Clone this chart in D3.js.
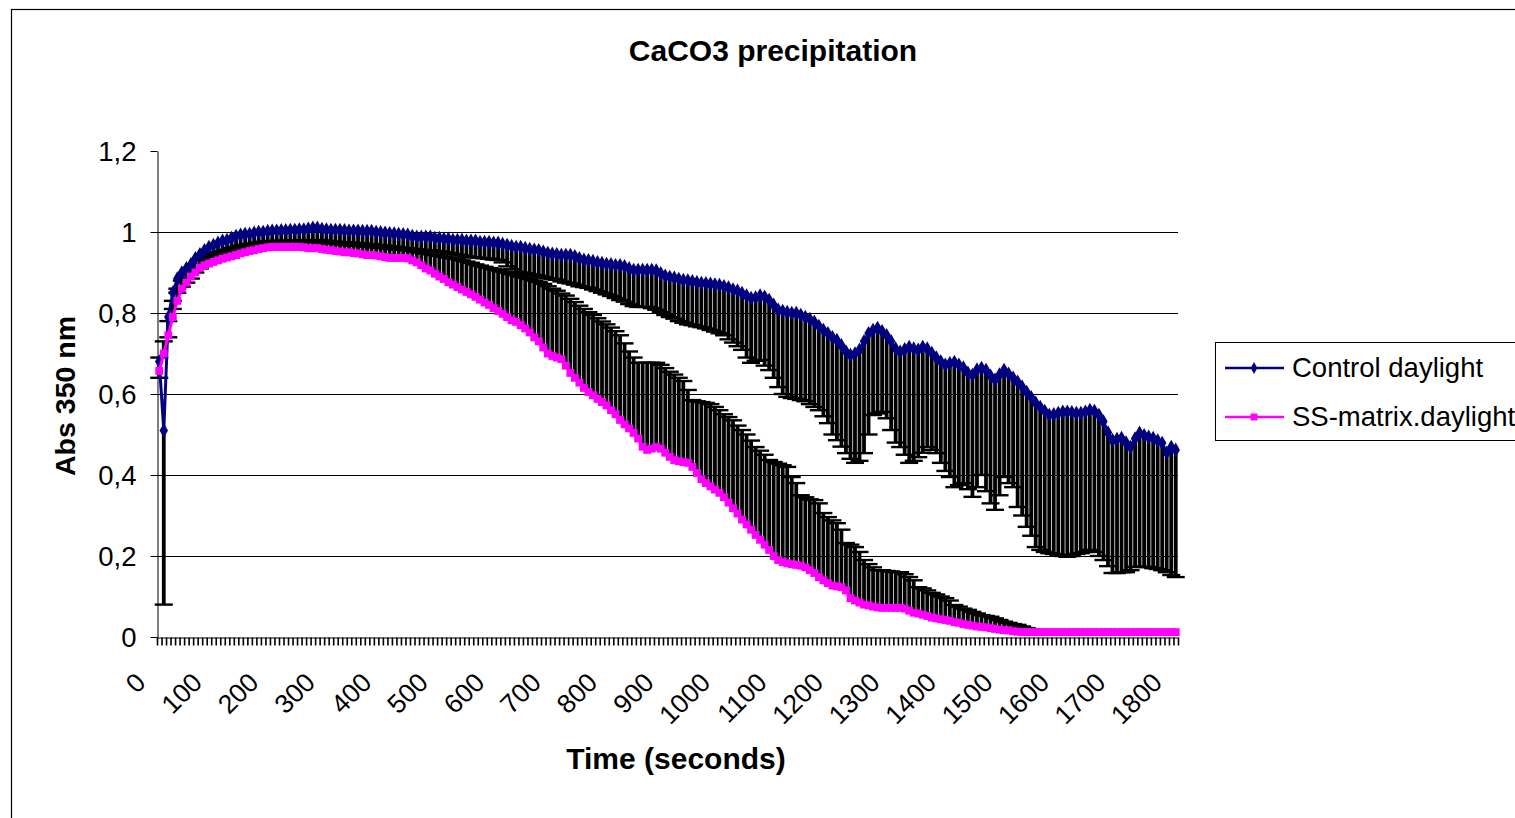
<!DOCTYPE html>
<html><head><meta charset="utf-8">
<script src="https://cdn.jsdelivr.net/npm/d3@7"></script>
<style>body{margin:0;background:#fff}svg text{font-family:"Liberation Sans",Arial,sans-serif;fill:#000}</style>
</head><body><svg id="c" width="1515" height="818"></svg>
<script>
// time step of the measurements (seconds)
const timeStep = 8;
const control = [0.68,0.51,0.79,0.85,0.885,0.90,0.91,0.92,0.935,0.945,
0.955,0.963,0.968,0.973,0.978,0.98,0.985,0.99,0.993,0.995,
0.995,0.998,1.0,1.0,1.002,1.003,1.003,1.004,1.004,1.005,
1.005,1.006,1.006,1.008,1.01,1.01,1.007,1.006,1.005,1.005,
1.005,1.004,1.003,1.003,1.003,1.002,1.002,1.002,1.0,0.999,
0.998,0.997,0.996,0.995,0.994,0.993,0.99,0.988,0.988,0.988,
0.988,0.985,0.985,0.983,0.983,0.98,0.98,0.98,0.978,0.978,
0.978,0.975,0.975,0.975,0.973,0.973,0.97,0.968,0.965,0.963,
0.963,0.96,0.958,0.956,0.955,0.951,0.948,0.946,0.945,0.943,
0.943,0.943,0.94,0.935,0.931,0.93,0.928,0.925,0.923,0.921,
0.92,0.918,0.918,0.915,0.91,0.906,0.906,0.906,0.906,0.906,
0.905,0.898,0.892,0.889,0.887,0.884,0.881,0.88,0.878,0.876,
0.874,0.873,0.872,0.87,0.869,0.866,0.863,0.858,0.855,0.849,
0.843,0.837,0.838,0.843,0.84,0.832,0.82,0.808,0.805,0.802,
0.8,0.8,0.795,0.79,0.785,0.778,0.768,0.758,0.75,0.74,
0.733,0.72,0.705,0.696,0.7,0.709,0.73,0.75,0.758,0.763,
0.755,0.745,0.73,0.712,0.704,0.71,0.716,0.712,0.709,0.716,
0.712,0.701,0.69,0.68,0.672,0.676,0.679,0.672,0.665,0.652,
0.647,0.66,0.664,0.659,0.645,0.635,0.648,0.659,0.65,0.64,
0.63,0.618,0.605,0.592,0.578,0.568,0.558,0.548,0.55,0.553,
0.556,0.556,0.555,0.553,0.553,0.556,0.56,0.558,0.548,0.532,
0.505,0.486,0.489,0.491,0.48,0.469,0.49,0.504,0.498,0.494,
0.491,0.485,0.479,0.455,0.469,0.462];
const controlLow = [0.64,0.08,0.74,0.81,0.85,0.865,0.875,0.885,0.9,0.91,
0.92,0.93,0.935,0.94,0.945,0.95,0.955,0.96,0.962,0.965,
0.967,0.97,0.972,0.973,0.975,0.976,0.977,0.977,0.978,0.978,
0.978,0.978,0.979,0.98,0.98,0.98,0.979,0.978,0.977,0.976,
0.975,0.975,0.974,0.973,0.972,0.972,0.97,0.97,0.968,0.967,
0.966,0.965,0.964,0.962,0.961,0.96,0.958,0.957,0.956,0.955,
0.955,0.953,0.952,0.95,0.948,0.946,0.944,0.942,0.94,0.938,
0.937,0.936,0.935,0.934,0.932,0.931,0.925,0.915,0.908,0.902,
0.9,0.898,0.896,0.894,0.892,0.889,0.886,0.884,0.882,0.878,
0.875,0.873,0.87,0.866,0.864,0.862,0.858,0.854,0.85,0.846,
0.842,0.837,0.832,0.828,0.822,0.817,0.815,0.815,0.815,0.812,
0.808,0.802,0.795,0.79,0.786,0.78,0.776,0.772,0.77,0.767,
0.765,0.762,0.758,0.754,0.75,0.745,0.735,0.727,0.718,0.709,
0.69,0.677,0.682,0.684,0.67,0.659,0.64,0.617,0.6,0.593,
0.59,0.588,0.585,0.582,0.575,0.568,0.56,0.545,0.528,0.5,
0.486,0.47,0.454,0.44,0.43,0.435,0.454,0.5,0.548,0.552,
0.556,0.54,0.511,0.48,0.469,0.45,0.43,0.435,0.444,0.455,
0.469,0.462,0.454,0.43,0.41,0.395,0.37,0.375,0.38,0.365,
0.346,0.37,0.4,0.36,0.33,0.314,0.35,0.395,0.38,0.37,
0.321,0.3,0.272,0.25,0.222,0.215,0.21,0.207,0.205,0.203,
0.2,0.198,0.2,0.205,0.207,0.21,0.215,0.21,0.2,0.19,
0.175,0.158,0.158,0.16,0.16,0.165,0.173,0.173,0.173,0.173,
0.17,0.168,0.165,0.16,0.153,0.148];
const ssMatrix = [0.657,0.70,0.745,0.79,0.83,0.86,0.875,0.89,0.90,0.912,
0.918,0.922,0.926,0.93,0.934,0.937,0.94,0.943,0.947,0.95,
0.953,0.955,0.958,0.96,0.962,0.963,0.963,0.963,0.963,0.963,
0.963,0.963,0.962,0.96,0.96,0.96,0.958,0.956,0.955,0.953,
0.952,0.95,0.95,0.948,0.947,0.945,0.943,0.943,0.942,0.94,
0.938,0.936,0.936,0.936,0.936,0.935,0.93,0.925,0.918,0.91,
0.905,0.897,0.89,0.884,0.876,0.87,0.864,0.858,0.852,0.846,
0.84,0.833,0.826,0.82,0.812,0.805,0.798,0.79,0.782,0.778,
0.77,0.762,0.752,0.74,0.73,0.715,0.7,0.694,0.69,0.686,
0.67,0.652,0.64,0.628,0.615,0.605,0.597,0.588,0.58,0.572,
0.56,0.55,0.536,0.525,0.515,0.504,0.49,0.47,0.462,0.465,
0.469,0.465,0.455,0.445,0.437,0.434,0.432,0.43,0.42,0.405,
0.39,0.38,0.372,0.364,0.356,0.345,0.332,0.318,0.305,0.29,
0.278,0.265,0.252,0.24,0.228,0.215,0.2,0.19,0.185,0.182,
0.18,0.178,0.176,0.172,0.165,0.158,0.148,0.14,0.133,0.127,
0.125,0.123,0.115,0.096,0.09,0.085,0.08,0.078,0.075,0.073,
0.072,0.072,0.072,0.072,0.072,0.07,0.065,0.06,0.058,0.055,
0.052,0.048,0.046,0.044,0.042,0.04,0.037,0.035,0.032,0.03,
0.028,0.026,0.025,0.024,0.022,0.02,0.018,0.017,0.016,0.014,
0.013,0.012,0.012,0.012,0.012,0.012,0.012,0.012,0.012,0.012,
0.012,0.012,0.012,0.012,0.012,0.012,0.012,0.012,0.012,0.012,
0.012,0.012,0.012,0.012,0.012,0.012,0.012,0.012,0.012,0.012,
0.012,0.012,0.012,0.012,0.012,0.012];
const ssHigh = [0.69,0.73,0.78,0.83,0.86,0.88,0.895,0.91,0.92,0.93,
0.935,0.94,0.945,0.95,0.953,0.956,0.96,0.963,0.966,0.968,
0.97,0.972,0.974,0.976,0.977,0.978,0.978,0.978,0.978,0.978,
0.978,0.978,0.977,0.976,0.976,0.975,0.974,0.973,0.972,0.971,
0.97,0.969,0.968,0.967,0.966,0.965,0.964,0.963,0.962,0.961,
0.96,0.959,0.958,0.957,0.956,0.955,0.953,0.951,0.949,0.947,
0.945,0.943,0.941,0.939,0.937,0.935,0.933,0.93,0.927,0.924,
0.92,0.917,0.914,0.911,0.908,0.905,0.902,0.899,0.896,0.893,
0.89,0.887,0.884,0.88,0.877,0.872,0.866,0.86,0.855,0.848,
0.843,0.835,0.827,0.818,0.81,0.802,0.795,0.787,0.779,0.772,
0.764,0.755,0.745,0.725,0.705,0.69,0.677,0.677,0.677,0.677,
0.677,0.672,0.664,0.655,0.648,0.64,0.632,0.61,0.585,0.582,
0.58,0.578,0.575,0.568,0.56,0.55,0.543,0.535,0.522,0.511,
0.5,0.485,0.469,0.46,0.45,0.437,0.432,0.428,0.424,0.42,
0.395,0.38,0.35,0.345,0.34,0.338,0.33,0.306,0.296,0.288,
0.281,0.265,0.232,0.228,0.222,0.21,0.19,0.18,0.172,0.165,
0.165,0.163,0.162,0.16,0.16,0.155,0.148,0.14,0.123,0.12,
0.115,0.109,0.105,0.1,0.096,0.09,0.079,0.075,0.07,0.067,
0.062,0.058,0.054,0.052,0.05,0.046,0.042,0.038,0.035,0.032,
0.03,0.026,0.022,0.019,0.016,0.015,0.014,0.013,0.012,0.012,
0.012,0.012,0.012,0.012,0.012,0.012,0.012,0.012,0.012,0.012,
0.012,0.012,0.012,0.012,0.012,0.012,0.012,0.012,0.012,0.012,
0.012,0.012,0.012,0.012,0.012,0.012];
const yTicks = [0,0.2,0.4,0.6,0.8,1,1.2];
const xLabels = [0,100,200,300,400,500,600,700,800,900,1000,1100,1200,1300,1400,1500,1600,1700,1800];
const seriesNames = ["Control daylight","SS-matrix.daylight"];
const seriesColors = ["#000080","#FF00FF"];
const titleText = "CaCO3 precipitation";
const xTitle = "Time (seconds)";
const yTitle = "Abs 350 nm";

const times = control.map((d,i)=>i*timeStep);
const svg = d3.select("#c");
const x = d3.scaleLinear().domain([-timeStep/2, times[times.length-1]+timeStep/2]).range([157,1178]);
const y = d3.scaleLinear().domain([0,1.2]).range([637,151]);

// outer chart border
svg.append("rect").attr("x",11.5).attr("y",9.5).attr("width",1510).attr("height",815)
  .attr("fill","none").attr("stroke","#000").attr("stroke-width",1.2);

// title
svg.append("text").attr("x",773).attr("y",61).attr("text-anchor","middle")
  .style("font-weight","bold").style("font-size","30px").text(titleText);

// gridlines
svg.append("g").selectAll("line").data(yTicks.filter(d=>d>0 && d<1.2)).join("line")
  .attr("x1",157).attr("x2",1178).attr("y1",d=>Math.round(y(d))+0.5).attr("y2",d=>Math.round(y(d))+0.5)
  .attr("stroke","#000").attr("stroke-width",1);

// y axis
const yAx = svg.append("g").attr("transform","translate(157.5,0)")
  .call(d3.axisLeft(y).tickValues(yTicks).tickSize(7).tickSizeOuter(0).tickPadding(14)
  .tickFormat(d=>String(d).replace(".",",")));
yAx.selectAll("text").style("font-size","27.5px").attr("dy","0.36em");
yAx.selectAll("line,path").attr("stroke","#000");

// x axis (category tick marks)
const bounds = times.map(t=>t-timeStep/2).concat([times[times.length-1]+timeStep/2]);
const xAx = svg.append("g").attr("transform","translate(0,637.5)")
  .call(d3.axisBottom(x).tickValues(bounds).tickSize(8).tickSizeOuter(0).tickFormat(""));
xAx.selectAll("line").attr("stroke","#000").attr("stroke-width",1.6);
xAx.select("path").attr("stroke","#000");
svg.append("g").selectAll("text").data(xLabels).join("text")
  .attr("transform",d=>`translate(${x(d)-12},684) rotate(-45)`)
  .attr("text-anchor","end").style("font-size","26.5px").text(d=>d);

// axis titles
svg.append("text").attr("x",676).attr("y",769).attr("text-anchor","middle")
  .style("font-weight","bold").style("font-size","30px").text(xTitle);
svg.append("text").attr("transform","translate(75,396) rotate(-90)").attr("text-anchor","middle")
  .style("font-weight","bold").style("font-size","28.5px").text(yTitle);

// error bars
function errorBars(vals, bounds2){
  const g = svg.append("g");
  const data = vals.map((v,i)=>({t:times[i],v,b:bounds2[i]})).filter(d=>Math.abs(d.b-d.v)>0.001);
  g.selectAll("line.v").data(data).join("line").attr("class","v")
    .attr("x1",d=>x(d.t)).attr("x2",d=>x(d.t)).attr("y1",d=>y(d.v)).attr("y2",d=>y(d.b))
    .attr("stroke","#000").attr("stroke-width",3.8);
  g.selectAll("line.c").data(data).join("line").attr("class","c")
    .attr("x1",d=>x(d.t)-9).attr("x2",d=>x(d.t)+9).attr("y1",d=>y(d.b)).attr("y2",d=>y(d.b))
    .attr("stroke","#000").attr("stroke-width",2.4);
}
errorBars(control, controlLow);
errorBars(ssMatrix, ssHigh);

// series
const line = d3.line().x((d,i)=>x(times[i])).y(d=>y(d));
[[control,d3.symbolDiamond,62],[ssMatrix,d3.symbolSquare,62]].forEach(([vals,sym,size],k)=>{
  svg.append("path").datum(vals).attr("d",line).attr("fill","none")
    .attr("stroke",seriesColors[k]).attr("stroke-width",3);
  svg.append("g").selectAll("path").data(vals).join("path")
    .attr("transform",(d,i)=>`translate(${x(times[i])},${y(d)})`)
    .attr("d",d3.symbol().type(sym).size(size)).attr("fill",seriesColors[k]);
});

// legend
const lg = svg.append("g");
lg.append("rect").attr("x",1215.5).attr("y",342.5).attr("width",320).attr("height",98)
  .attr("fill","#fff").attr("stroke","#000").attr("stroke-width",1);
seriesNames.forEach((n,k)=>{
  const yy = 368 + k*49;
  lg.append("line").attr("x1",1225).attr("x2",1284).attr("y1",yy).attr("y2",yy)
    .attr("stroke",seriesColors[k]).attr("stroke-width",2.5);
  lg.append("path").attr("transform",`translate(1254,${yy})`)
    .attr("d",d3.symbol().type(k?d3.symbolSquare:d3.symbolDiamond).size(k?48:40)).attr("fill",seriesColors[k]);
  lg.append("text").attr("x",1292).attr("y",yy+9).style("font-size","27.5px").text(n);
});
</script></body></html>
